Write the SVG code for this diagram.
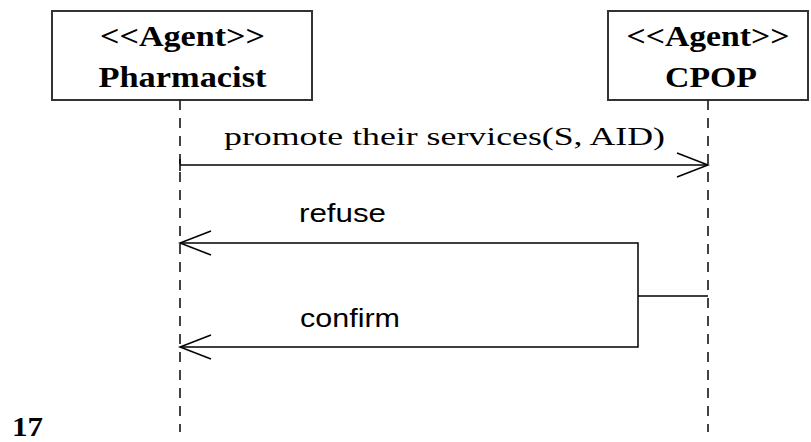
<svg xmlns="http://www.w3.org/2000/svg" width="811" height="442" viewBox="0 0 811 442">
<style>
.box{fill:#fff;stroke:#333;stroke-width:2}
.title{font-family:"Liberation Serif",serif;font-weight:bold;font-size:30px;fill:#000;text-anchor:middle}
.life{stroke:#222;stroke-width:1.7;stroke-dasharray:10 8;fill:none}
.msg{stroke:#000;stroke-width:1.5;fill:none}
.serif{font-family:"Liberation Serif",serif;font-size:26px;fill:#000}
.sans{font-family:"Liberation Sans",Arial,sans-serif;font-size:26px;fill:#000}
</style>
<rect width="811" height="442" fill="#fff"/>
<g id="pharmacist">
<rect class="box" x="52" y="11" width="260" height="89"/>
<text class="title" x="182.5" y="46" textLength="165" lengthAdjust="spacingAndGlyphs">&lt;&lt;Agent&gt;&gt;</text>
<text class="title" x="182.5" y="87" textLength="168" lengthAdjust="spacingAndGlyphs">Pharmacist</text>
</g>
<g id="cpop">
<rect class="box" x="608" y="11" width="200" height="89"/>
<text class="title" x="708" y="46" textLength="163" lengthAdjust="spacingAndGlyphs">&lt;&lt;Agent&gt;&gt;</text>
<text class="title" x="711" y="87" textLength="92" lengthAdjust="spacingAndGlyphs">CPOP</text>
</g>
<g id="connectors">
<line class="life" x1="180" y1="100" x2="180" y2="432"/>
<line class="life" x1="708" y1="100" x2="708" y2="432"/>
<line class="msg" x1="180" y1="165" x2="708" y2="165"/>
<line class="msg" x1="180" y1="159" x2="180" y2="171"/>
<polyline class="msg" points="677,153 708,165 677,177"/>
<text class="serif" x="224" y="145" textLength="441" lengthAdjust="spacingAndGlyphs">promote their services(S, AID)</text>
<polyline class="msg" points="708,296 638,296"/>
<polyline class="msg" points="180,243 638,243 638,347 180,347"/>
<polyline class="msg" points="211,231 180,243 211,255"/>
<polyline class="msg" points="211,335 180,347 211,359"/>
<text class="sans" x="299" y="222" textLength="87" lengthAdjust="spacingAndGlyphs">refuse</text>
<text class="sans" x="300" y="327" textLength="100" lengthAdjust="spacingAndGlyphs">confirm</text>
</g>
<text x="12" y="436" font-family="Liberation Serif, serif" font-weight="bold" font-size="28" textLength="31" lengthAdjust="spacingAndGlyphs" fill="#000">17</text>
</svg>
